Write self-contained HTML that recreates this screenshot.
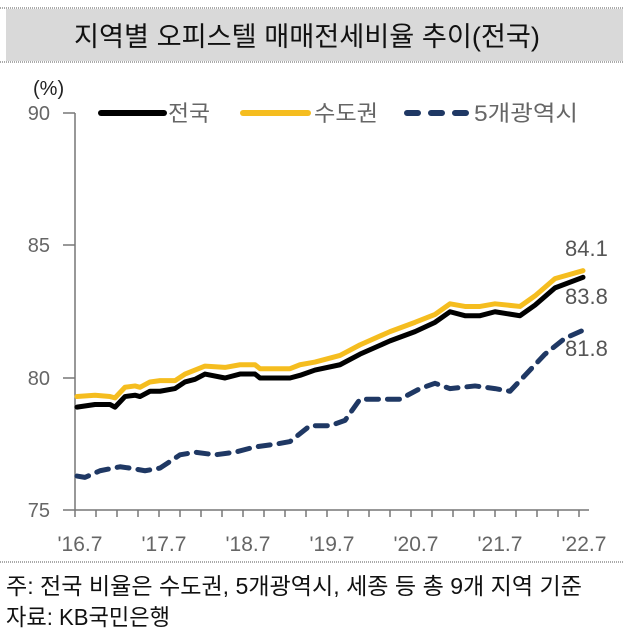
<!DOCTYPE html>
<html><head><meta charset="utf-8"><style>
body{margin:0;background:#fff;width:623px;height:637px;overflow:hidden;font-family:"Liberation Sans","Noto Sans CJK KR",sans-serif}
</style></head><body>
<svg width="623" height="637" xmlns="http://www.w3.org/2000/svg" style="font-family:'Liberation Sans','Noto Sans CJK KR',sans-serif">
<rect x="6" y="9" width="617" height="52" fill="#d9d9d9"/>
<line x1="0" y1="8" x2="623" y2="8" stroke="#555" stroke-dasharray="1 1"/>
<line x1="0" y1="62" x2="623" y2="62" stroke="#555" stroke-dasharray="1 1"/>
<text x="307" y="46" font-size="27" text-anchor="middle" fill="#111" textLength="466" lengthAdjust="spacingAndGlyphs">지역별 오피스텔 매매전세비율 추이(전국)</text>
<text x="33" y="95" font-size="20" fill="#222">(%)</text>
<g font-size="20" fill="#666" text-anchor="end">
<text x="50" y="120">90</text><text x="50" y="252">85</text><text x="50" y="385">80</text><text x="50" y="517">75</text>
</g>
<g stroke="#777" stroke-width="1.5" fill="none">
<line x1="63" y1="113" x2="75" y2="113"/><line x1="63" y1="245" x2="75" y2="245"/><line x1="63" y1="378" x2="75" y2="378"/>
<line x1="75" y1="113" x2="75" y2="510"/><line x1="63" y1="510" x2="589" y2="510"/>
</g>
<g stroke="#777" stroke-width="1.5">
<line x1="75" y1="510" x2="75" y2="517"/><line x1="96" y1="510" x2="96" y2="517"/><line x1="117" y1="510" x2="117" y2="517"/><line x1="138" y1="510" x2="138" y2="517"/><line x1="159" y1="510" x2="159" y2="517"/><line x1="180" y1="510" x2="180" y2="517"/><line x1="201" y1="510" x2="201" y2="517"/><line x1="222" y1="510" x2="222" y2="517"/><line x1="243" y1="510" x2="243" y2="517"/><line x1="264" y1="510" x2="264" y2="517"/><line x1="285" y1="510" x2="285" y2="517"/><line x1="306" y1="510" x2="306" y2="517"/><line x1="327" y1="510" x2="327" y2="517"/><line x1="348" y1="510" x2="348" y2="517"/><line x1="369" y1="510" x2="369" y2="517"/><line x1="390" y1="510" x2="390" y2="517"/><line x1="411" y1="510" x2="411" y2="517"/><line x1="432" y1="510" x2="432" y2="517"/><line x1="453" y1="510" x2="453" y2="517"/><line x1="474" y1="510" x2="474" y2="517"/><line x1="495" y1="510" x2="495" y2="517"/><line x1="516" y1="510" x2="516" y2="517"/><line x1="537" y1="510" x2="537" y2="517"/><line x1="558" y1="510" x2="558" y2="517"/><line x1="579" y1="510" x2="579" y2="517"/>
</g>
<g font-size="21" fill="#666" text-anchor="middle">
<text x="80" y="551">'16.7</text><text x="164" y="551">'17.7</text><text x="248" y="551">'18.7</text><text x="332" y="551">'19.7</text><text x="416" y="551">'20.7</text><text x="500" y="551">'21.7</text><text x="584" y="551">'22.7</text>
</g>
<g transform="matrix(1 0 0 -26.5 0 2498)" fill="none" stroke-linejoin="round" stroke-linecap="round">
<polyline vector-effect="non-scaling-stroke" stroke="#f5bd1f" stroke-width="5" points="77,79.3 95,79.35 110,79.3 115,79.25 125,79.65 135,79.7 140,79.65 150,79.85 160,79.9 175,79.9 185,80.15 195,80.3 205,80.45 225,80.4 240,80.5 255,80.5 260,80.35 290,80.35 300,80.5 315,80.6 340,80.85 360,81.25 390,81.75 415,82.1 435,82.4 450,82.8 465,82.7 480,82.7 495,82.8 520,82.7 535,83.1 555,83.75 583,84.05"/>
<polyline vector-effect="non-scaling-stroke" stroke="#000" stroke-width="5" points="77,78.9 95,79.0 110,79.0 115,78.9 125,79.3 135,79.35 140,79.3 150,79.5 160,79.5 175,79.6 185,79.85 195,79.95 205,80.15 225,80.0 240,80.15 255,80.15 260,80.0 290,80.0 300,80.1 315,80.3 340,80.5 360,80.9 390,81.4 415,81.75 435,82.1 450,82.5 465,82.35 480,82.35 495,82.5 520,82.35 535,82.75 555,83.4 583,83.8"/>
<polyline vector-effect="non-scaling-stroke" stroke="#1f3864" stroke-width="5" stroke-dasharray="12 9" points="77,76.3 85,76.25 100,76.5 120,76.65 130,76.6 145,76.5 160,76.6 180,77.1 195,77.2 215,77.1 235,77.2 255,77.4 275,77.5 290,77.6 310,78.2 330,78.2 345,78.4 360,79.2 385,79.2 400,79.2 420,79.6 435,79.8 450,79.6 475,79.7 495,79.6 510,79.5 525,80.1 545,80.9 565,81.5 583,81.8"/>
</g>
<g font-size="22" fill="#555">
<text x="565" y="256">84.1</text><text x="565" y="304">83.8</text><text x="565" y="356">81.8</text>
</g>
<line x1="101" y1="113" x2="164" y2="113" stroke="#000" stroke-width="6" stroke-linecap="round"/>
<text x="168" y="121" font-size="22" fill="#666" textLength="42" lengthAdjust="spacingAndGlyphs">전국</text>
<line x1="243" y1="113" x2="308" y2="113" stroke="#f5bd1f" stroke-width="6" stroke-linecap="round"/>
<text x="314" y="121" font-size="22" fill="#666" textLength="64" lengthAdjust="spacingAndGlyphs">수도권</text>
<line x1="407" y1="113" x2="468" y2="113" stroke="#1f3864" stroke-width="6" stroke-linecap="round" stroke-dasharray="11 13"/>
<text x="474" y="121" font-size="22" fill="#666" textLength="104" lengthAdjust="spacingAndGlyphs">5개광역시</text>
<line x1="0" y1="562" x2="623" y2="562" stroke="#555" stroke-dasharray="1 1"/>
<text x="6" y="594" font-size="23" fill="#111" textLength="576" lengthAdjust="spacingAndGlyphs">주: 전국 비율은 수도권, 5개광역시, 세종 등 총 9개 지역 기준</text>
<text x="6" y="625" font-size="23" fill="#111" textLength="164" lengthAdjust="spacingAndGlyphs">자료: KB국민은행</text>
</svg>
</body></html>
